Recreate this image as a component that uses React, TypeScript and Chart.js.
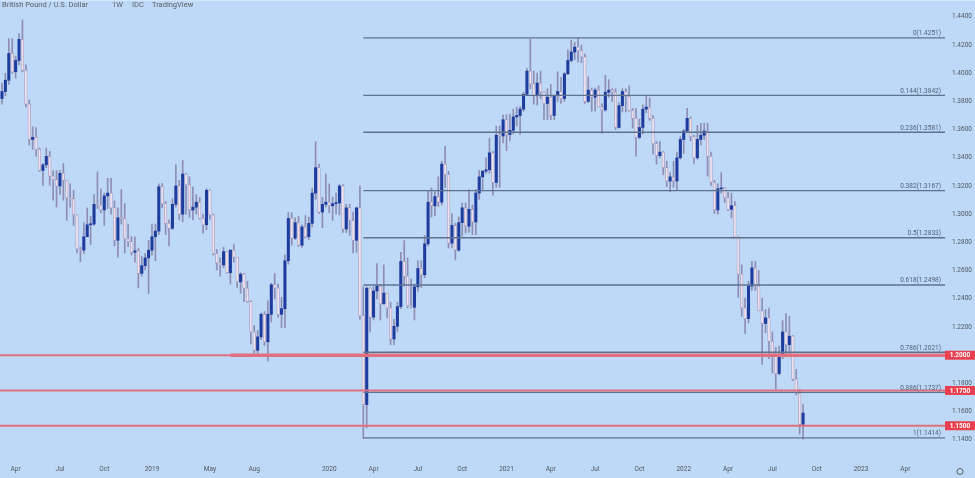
import React, { useEffect, useRef } from 'react';
import { Chart, registerables } from 'chart.js';

Chart.register(...registerables);

// ---------- DATA (weekly GBP/USD candles, first week starting 2018-02-26) ----------
const firstWeek = '2018-02-26';

const open2018 = [1.3915,1.3820,1.3870,1.3950,1.4140,1.4010,1.4090,1.4240,1.4020,1.3780, 1.3530,1.3545,1.3460,1.3310,1.3350,1.3410,1.3270,1.3245,1.3200,1.3290, 1.3240,1.3115,1.3110,1.2995,1.2755,1.2745,1.2840,1.2925,1.2930,1.3070, 1.3065,1.3030,1.3130,1.3150,1.3045,1.2815,1.2975,1.2970,1.2825,1.2805, 1.2730,1.2740,1.2580,1.2635,1.2690];
const high2018 = [1.3930,1.3930,1.4000,1.4245,1.4245,1.4120,1.4280,1.4377,1.4060,1.3810, 1.3620,1.3615,1.3470,1.3360,1.3470,1.3445,1.3310,1.3310,1.3310,1.3360, 1.3240,1.3215,1.3170,1.2995,1.2765,1.2940,1.3045,1.2985,1.3140,1.3300, 1.3180,1.3150,1.3255,1.3255,1.3095,1.3045,1.3175,1.3075,1.2930,1.2840, 1.2840,1.2760,1.2700,1.2720,1.2815];
const low2018 = [1.3712,1.3780,1.3840,1.3920,1.4000,1.3965,1.4060,1.4010,1.3760,1.3490, 1.3460,1.3410,1.3305,1.3205,1.3330,1.3205,1.3100,1.3050,1.3140,1.3100, 1.2957,1.3050,1.2920,1.2725,1.2662,1.2720,1.2840,1.2785,1.2920,1.3040, 1.3010,1.2920,1.3040,1.3000,1.2775,1.2696,1.2930,1.2725,1.2770,1.2710, 1.2660,1.2477,1.2560,1.2605,1.2438];
const close2018 = [1.3820,1.3870,1.3950,1.4140,1.4010,1.4090,1.4240,1.4020,1.3780,1.3530, 1.3545,1.3460,1.3310,1.3350,1.3410,1.3270,1.3245,1.3200,1.3290,1.3240, 1.3115,1.3110,1.2995,1.2755,1.2745,1.2840,1.2925,1.2930,1.3070,1.3065, 1.3030,1.3130,1.3150,1.3045,1.2815,1.2975,1.2970,1.2825,1.2805,1.2730, 1.2740,1.2580,1.2635,1.2690,1.2745];

const open2019 = [1.2745,1.2840,1.2880,1.3195,1.3075,1.2935,1.2900,1.3070,1.3200,1.3000, 1.3285,1.3210,1.3030,1.3050,1.3085,1.2970,1.2925,1.3170,1.2995,1.2720, 1.2655,1.2640,1.2735,1.2585,1.2745,1.2695,1.2520,1.2575,1.2475,1.2380, 1.2165,1.2035,1.2130,1.2290,1.2095,1.2290,1.2500,1.2475,1.2290,1.2330, 1.2670,1.2970,1.2830,1.2940,1.2780,1.2910,1.2840,1.2935,1.3150,1.3330, 1.3015,1.3070];
const high2019 = [1.2930,1.2930,1.3215,1.3218,1.3090,1.2960,1.3110,1.3350,1.3240,1.3381, 1.3290,1.3265,1.3195,1.3140,1.3120,1.3000,1.3180,1.3175,1.3000,1.2750, 1.2690,1.2765,1.2735,1.2750,1.2785,1.2695,1.2585,1.2580,1.2525,1.2385, 1.2210,1.2175,1.2300,1.2310,1.2385,1.2510,1.2580,1.2505,1.2410,1.2710, 1.3013,1.3010,1.2975,1.2985,1.2925,1.2990,1.2980,1.3185,1.3514,1.3355, 1.3120,1.3285];
const low2019 = [1.2710,1.2670,1.2855,1.3045,1.2855,1.2775,1.2890,1.3050,1.2960,1.2945, 1.3000,1.2977,1.2960,1.3000,1.2965,1.2865,1.2890,1.2965,1.2710,1.2605, 1.2560,1.2620,1.2580,1.2505,1.2660,1.2480,1.2440,1.2380,1.2375,1.2080, 1.2015,1.2015,1.2110,1.2070,1.1959,1.2235,1.2400,1.2270,1.2195,1.2195, 1.2645,1.2780,1.2820,1.2770,1.2765,1.2830,1.2820,1.2910,1.3105,1.3005, 1.2905,1.3050];
const close2019 = [1.2840,1.2880,1.3195,1.3075,1.2935,1.2900,1.3070,1.3200,1.3000,1.3285, 1.3210,1.3030,1.3050,1.3085,1.2970,1.2925,1.3170,1.2995,1.2720,1.2655, 1.2640,1.2735,1.2585,1.2745,1.2695,1.2520,1.2575,1.2475,1.2380,1.2165, 1.2035,1.2130,1.2290,1.2095,1.2290,1.2500,1.2475,1.2290,1.2330,1.2670, 1.2970,1.2830,1.2940,1.2780,1.2910,1.2840,1.2935,1.3150,1.3330,1.3015, 1.3070,1.3085];

const open2020 = [1.3085,1.3060,1.3075,1.3080,1.3200,1.2895,1.3045,1.2955,1.2815,1.3045, 1.2280,1.1650,1.2475,1.2270,1.2455,1.2490,1.2365,1.2440,1.2335,1.2115, 1.2205,1.2345,1.2665,1.2560,1.2350,1.2340,1.2485,1.2615,1.2570,1.2790, 1.3085,1.3060,1.3125,1.3085,1.3355,1.3280,1.2795,1.2920,1.2745,1.2940, 1.3045,1.2915,1.3035,1.2945,1.3150,1.3265,1.3305,1.3315,1.3435,1.3225, 1.3560,1.3555];
const high2020 = [1.3215,1.3120,1.3150,1.3210,1.3210,1.3070,1.3070,1.3015,1.3050,1.3200, 1.2485,1.2485,1.2480,1.2485,1.2650,1.2500,1.2640,1.2440,1.2375,1.2255, 1.2375,1.2730,1.2813,1.2690,1.2540,1.2505,1.2670,1.2670,1.2850,1.3170, 1.3185,1.3160,1.3265,1.3375,1.3482,1.3305,1.3005,1.2935,1.2980,1.3080, 1.3080,1.3175,1.3065,1.3175,1.3310,1.3310,1.3400,1.3540,1.3445,1.3625, 1.3625,1.3705];
const low2020 = [1.3010,1.2955,1.3000,1.2995,1.2870,1.2870,1.2850,1.2725,1.2730,1.2255, 1.1409,1.1485,1.2165,1.2250,1.2400,1.2250,1.2360,1.2265,1.2075,1.2075, 1.2165,1.2330,1.2490,1.2335,1.2335,1.2250,1.2455,1.2480,1.2550,1.2775, 1.2980,1.2990,1.3055,1.3065,1.3190,1.2760,1.2765,1.2676,1.2735,1.2845, 1.2865,1.2870,1.2855,1.2855,1.3105,1.3175,1.3290,1.3290,1.3135,1.3190, 1.3190,1.3505];
const close2020 = [1.3060,1.3075,1.3080,1.3200,1.2895,1.3045,1.2955,1.2815,1.3045,1.2280, 1.1650,1.2475,1.2270,1.2455,1.2490,1.2365,1.2440,1.2335,1.2115,1.2205, 1.2345,1.2665,1.2560,1.2350,1.2340,1.2485,1.2615,1.2570,1.2790,1.3085, 1.3060,1.3125,1.3085,1.3355,1.3280,1.2795,1.2920,1.2745,1.2940,1.3045, 1.2915,1.3035,1.2945,1.3150,1.3265,1.3305,1.3315,1.3435,1.3225,1.3560, 1.3555,1.3670];

const open2021 = [1.3670,1.3565,1.3595,1.3690,1.3700,1.3745,1.3850,1.4015,1.3925,1.3840, 1.3930,1.3865,1.3785,1.3830,1.3700,1.3840,1.3870,1.3820,1.3995,1.4090, 1.4150,1.4185,1.4160,1.4115,1.3800,1.3880,1.3830,1.3880,1.3760,1.3740, 1.3865,1.3880,1.3865,1.3615,1.3770,1.3870,1.3835,1.3735,1.3680,1.3545, 1.3615,1.3745,1.3760,1.3680,1.3500,1.3415,1.3440,1.3330,1.3235,1.3265, 1.3235,1.3400];
const high2021 = [1.3705,1.3710,1.3745,1.3760,1.3765,1.3865,1.4035,1.4241,1.4015,1.4000, 1.4015,1.3870,1.3890,1.3920,1.3840,1.4010,1.3970,1.4005,1.4165,1.4235, 1.4220,1.4250,1.4200,1.4135,1.3975,1.3895,1.3895,1.3910,1.3785,1.3985, 1.3955,1.3890,1.3890,1.3790,1.3890,1.3890,1.3910,1.3750,1.3750,1.3675, 1.3775,1.3835,1.3825,1.3700,1.3515,1.3515,1.3445,1.3375,1.3295,1.3375, 1.3440,1.3550];
const low2021 = [1.3450,1.3520,1.3570,1.3625,1.3565,1.3730,1.3845,1.3890,1.3780,1.3775, 1.3820,1.3670,1.3670,1.3670,1.3670,1.3800,1.3785,1.3800,1.3990,1.4080, 1.4095,1.4080,1.4075,1.3785,1.3790,1.3730,1.3730,1.3760,1.3572,1.3730, 1.3830,1.3800,1.3600,1.3610,1.3725,1.3725,1.3730,1.3610,1.3412,1.3535, 1.3570,1.3720,1.3665,1.3425,1.3355,1.3400,1.3280,1.3195,1.3160,1.3190, 1.3170,1.3390];
const close2021 = [1.3565,1.3595,1.3690,1.3700,1.3745,1.3850,1.4015,1.3925,1.3840,1.3930, 1.3865,1.3785,1.3830,1.3700,1.3840,1.3870,1.3820,1.3995,1.4090,1.4150, 1.4185,1.4160,1.4115,1.3800,1.3880,1.3830,1.3880,1.3760,1.3740,1.3865, 1.3880,1.3865,1.3615,1.3770,1.3870,1.3835,1.3735,1.3680,1.3545,1.3615, 1.3745,1.3760,1.3680,1.3500,1.3415,1.3440,1.3330,1.3235,1.3265,1.3235, 1.3400,1.3530];

const open2022 = [1.3530,1.3590,1.3680,1.3550,1.3400,1.3530,1.3560,1.3590,1.3410,1.3225, 1.3030,1.3180,1.3185,1.3115,1.3035,1.3060,1.2840,1.2575,1.2335,1.2260, 1.2490,1.2620,1.2490,1.2315,1.2225,1.2265,1.2100,1.1995,1.1870,1.2005, 1.2165,1.2075,1.2135,1.1830,1.1730,1.1510];
const high2022 = [1.3600,1.3750,1.3690,1.3560,1.3630,1.3645,1.3645,1.3645,1.3440,1.3240, 1.3215,1.3295,1.3190,1.3155,1.3150,1.3090,1.2840,1.2640,1.2405,1.2525, 1.2665,1.2665,1.2600,1.2405,1.2325,1.2335,1.2165,1.2055,1.2065,1.2245, 1.2295,1.2275,1.2140,1.1900,1.1760,1.1650];
const low2022 = [1.3430,1.3585,1.3520,1.3360,1.3390,1.3490,1.3530,1.3270,1.3205,1.3005, 1.3000,1.3150,1.3085,1.3025,1.2975,1.2835,1.2410,1.2275,1.2155,1.2230, 1.2460,1.2460,1.2315,1.1935,1.2160,1.1975,1.1875,1.1760,1.1860,1.1975, 1.2005,1.2005,1.1820,1.1720,1.1440,1.1405];
const close2022 = [1.3590,1.3680,1.3550,1.3400,1.3530,1.3560,1.3590,1.3410,1.3225,1.3030, 1.3180,1.3185,1.3115,1.3035,1.3060,1.2840,1.2575,1.2335,1.2260,1.2490, 1.2620,1.2490,1.2315,1.2225,1.2265,1.2100,1.1995,1.1870,1.2005,1.2165, 1.2075,1.2135,1.1830,1.1730,1.1510,1.1590];

const fibLevels = [0, 0.144, 0.236, 0.382, 0.5, 0.618, 0.786, 0.886, 1];
const fibPrices = [1.4251, 1.3842, 1.3581, 1.3167, 1.2833, 1.2498, 1.2021, 1.1737, 1.1414];
const fibStartDate = '2020-03-16';

const supportLevels = [1.2, 1.175, 1.15];
const supportLabels = ['1.2000', '1.1750', '1.1500'];
const supportRayStart = '2019-06-17';

const yTicks = [1.14, 1.16, 1.18, 1.2, 1.22, 1.24, 1.26, 1.28, 1.3, 1.32, 1.34, 1.36, 1.38, 1.4, 1.42, 1.44];

const xTickDates = ['2018-04-02','2018-07-02','2018-10-01','2019-01-07','2019-05-06','2019-08-05','2020-01-06','2020-04-06','2020-07-06','2020-10-05','2021-01-04','2021-04-05','2021-07-05','2021-10-04','2022-01-03','2022-04-04','2022-07-04','2022-10-03','2023-01-02','2023-04-03'];
const xTickLabels = ['Apr','Jul','Oct','2019','May','Aug','2020','Apr','Jul','Oct','2021','Apr','Jul','Oct','2022','Apr','Jul','Oct','2023','Apr'];

const titleParts = ['British Pound / U.S. Dollar', '1W', 'IDC', 'TradingView'];

// ---------- STYLE ----------
const BG = '#bdd9f7';
const UP = '#1e3c9e';
const WICK = '#8f8db3';
const DOWN_FILL = '#ede1ed';
const DOWN_BORDER = '#a79bbd';
const FIB = '#5e7290';
const FIB_TEXT = '#4f5d74';
const RED_LINE = '#e0707e';
const RED_BOX = '#e8404e';
const TEXT = '#50565f';
const FONT = 'Roboto, "Open Sans", sans-serif';

const X_MIN = 58.9;
const X_MAX = 1999.5;
const Y_MIN = 1.1257;
const Y_MAX = 1.4519;

const DAY0 = Date.UTC(2018, 0, 1);
function dayOf(s: string): number {
  const [y, m, d] = s.split('-').map(Number);
  return (Date.UTC(y, m - 1, d) - DAY0) / 86400000;
}

const openP = [...open2018, ...open2019, ...open2020, ...open2021, ...open2022];
const highP = [...high2018, ...high2019, ...high2020, ...high2021, ...high2022];
const lowP = [...low2018, ...low2019, ...low2020, ...low2021, ...low2022];
const closeP = [...close2018, ...close2019, ...close2020, ...close2021, ...close2022];

export default function App() {
  const ref = useRef<HTMLCanvasElement>(null);

  useEffect(() => {
    const canvas = ref.current;
    if (!canvas) return;
    const start = dayOf(firstWeek);
    const days = openP.map((_, i) => start + 7 * i);
    const wickData = days.map((x, i) => ({ x, y: [lowP[i], highP[i]] }));
    const upData: any[] = [];
    const downData: any[] = [];
    days.forEach((x, i) => {
      if (closeP[i] >= openP[i]) upData.push({ x, y: [openP[i], closeP[i]] });
      else downData.push({ x, y: [closeP[i], openP[i]] });
    });
    const fibStart = dayOf(fibStartDate);
    const xTickDays = xTickDates.map(dayOf);

    const datasets: any[] = [
      { type: 'bar', label: 'wick', data: wickData, backgroundColor: WICK, barThickness: 1, grouped: false, order: 4, borderWidth: 0 },
      { type: 'bar', label: 'up', data: upData, backgroundColor: UP, barThickness: 2.4, minBarLength: 1, grouped: false, order: 3, borderWidth: 0 },
      { type: 'bar', label: 'down', data: downData, backgroundColor: DOWN_FILL, borderColor: DOWN_BORDER, borderWidth: 0.7, borderSkipped: false, barThickness: 2.6, minBarLength: 1, grouped: false, order: 3 },
      ...fibPrices.map((p) => ({
        type: 'line', label: 'fib', data: [{ x: fibStart, y: p }, { x: X_MAX, y: p }],
        borderColor: FIB, borderWidth: 1.3, pointRadius: 0, fill: false, order: 2,
      })),
      ...supportLevels.map((p) => ({
        type: 'line', label: 'sr', data: [{ x: X_MIN, y: p }, { x: X_MAX, y: p }],
        borderColor: RED_LINE, borderWidth: 2, pointRadius: 0, fill: false, order: 1,
      })),
      {
        type: 'line', label: 'ray', data: [{ x: dayOf(supportRayStart), y: supportLevels[0] }, { x: X_MAX, y: supportLevels[0] }],
        borderColor: RED_LINE, borderWidth: 3.5, pointRadius: 0, fill: false, order: 0,
      },
    ];

    const bgPlugin = {
      id: 'bg',
      beforeDraw(chart: any) {
        const { ctx, width, height } = chart;
        ctx.save();
        ctx.fillStyle = BG;
        ctx.fillRect(0, 0, width, height);
        ctx.restore();
      },
    };

    const overlay = {
      id: 'overlay',
      afterDatasetsDraw(chart: any) {
        const { ctx, chartArea, scales } = chart;
        const ys = scales.y;
        ctx.save();
        ctx.font = `6.5px ${FONT}`;
        ctx.fillStyle = FIB_TEXT;
        ctx.textAlign = 'right';
        ctx.textBaseline = 'alphabetic';
        fibPrices.forEach((p, i) => {
          const py = ys.getPixelForValue(p);
          ctx.fillText(`${fibLevels[i]}(${p.toFixed(4)})`, chartArea.right - 4, py - 2.5);
        });
        ctx.restore();
      },
      afterDraw(chart: any) {
        const { ctx, chartArea, scales, width } = chart;
        const ys = scales.y;
        ctx.save();
        supportLevels.forEach((p, i) => {
          const py = ys.getPixelForValue(p);
          ctx.fillStyle = RED_BOX;
          ctx.fillRect(chartArea.right, py - 4.5, width - chartArea.right, 9);
          ctx.fillStyle = '#ffffff';
          ctx.font = `bold 6.5px ${FONT}`;
          ctx.textAlign = 'center';
          ctx.textBaseline = 'middle';
          ctx.fillText(supportLabels[i], (chartArea.right + width) / 2, py + 0.5);
        });
        ctx.fillStyle = '#5c6066';
        ctx.font = `7.5px ${FONT}`;
        ctx.textAlign = 'left';
        ctx.textBaseline = 'middle';
        const tx = [2, 112, 132, 152];
        titleParts.forEach((t, i) => ctx.fillText(t, tx[i], 5.5));
        ctx.strokeStyle = 'rgba(255,255,255,0.35)';
        ctx.lineWidth = 1;
        ctx.beginPath();
        ctx.moveTo(0, 0.5);
        ctx.lineTo(width, 0.5);
        ctx.stroke();
        ctx.strokeStyle = '#5c6066';
        ctx.lineWidth = 1;
        ctx.beginPath();
        ctx.arc(960, 471.5, 3, 0, Math.PI * 2);
        ctx.stroke();
        ctx.restore();
      },
    };

    const chart = new Chart(canvas, {
      type: 'bar',
      data: { datasets },
      options: {
        animation: false,
        responsive: false,
        maintainAspectRatio: false,
        devicePixelRatio: 1,
        events: [],
        layout: { padding: 0 },
        plugins: { legend: { display: false }, tooltip: { enabled: false }, title: { display: false } },
        scales: {
          x: {
            type: 'linear', min: X_MIN, max: X_MAX, offset: false, bounds: 'data',
            grid: { display: false, drawTicks: false }, border: { display: false },
            afterBuildTicks: (s: any) => { s.ticks = xTickDays.map((v) => ({ value: v })); },
            afterFit: (s: any) => { s.height = 18; s.paddingLeft = 0; s.paddingRight = 0; s.paddingTop = 0; s.paddingBottom = 0; },
            ticks: {
              autoSkip: false, maxRotation: 0, padding: 5, color: TEXT,
              font: { size: 6.5, family: FONT },
              callback: (_v: any, i: number) => xTickLabels[i],
            },
          },
          y: {
            type: 'linear', position: 'right', min: Y_MIN, max: Y_MAX, beginAtZero: false, bounds: 'data',
            grid: { display: false, drawTicks: false }, border: { display: false },
            afterBuildTicks: (s: any) => { s.ticks = yTicks.map((v) => ({ value: v })); },
            afterFit: (s: any) => { s.width = 30; s.paddingTop = 0; s.paddingBottom = 0; s.paddingLeft = 0; s.paddingRight = 0; },
            ticks: {
              padding: 7, color: TEXT,
              font: { size: 6.5, family: FONT },
              callback: (v: any) => Number(v).toFixed(4),
            },
          },
        },
      } as any,
      plugins: [bgPlugin, overlay],
    } as any);

    return () => chart.destroy();
  }, []);

  return (
    <div style={{ position: 'absolute', left: 0, top: 0, width: 975, height: 478, background: BG }}>
      <canvas ref={ref} width={975} height={478} style={{ display: 'block', width: 975, height: 478 }} />
    </div>
  );
}
